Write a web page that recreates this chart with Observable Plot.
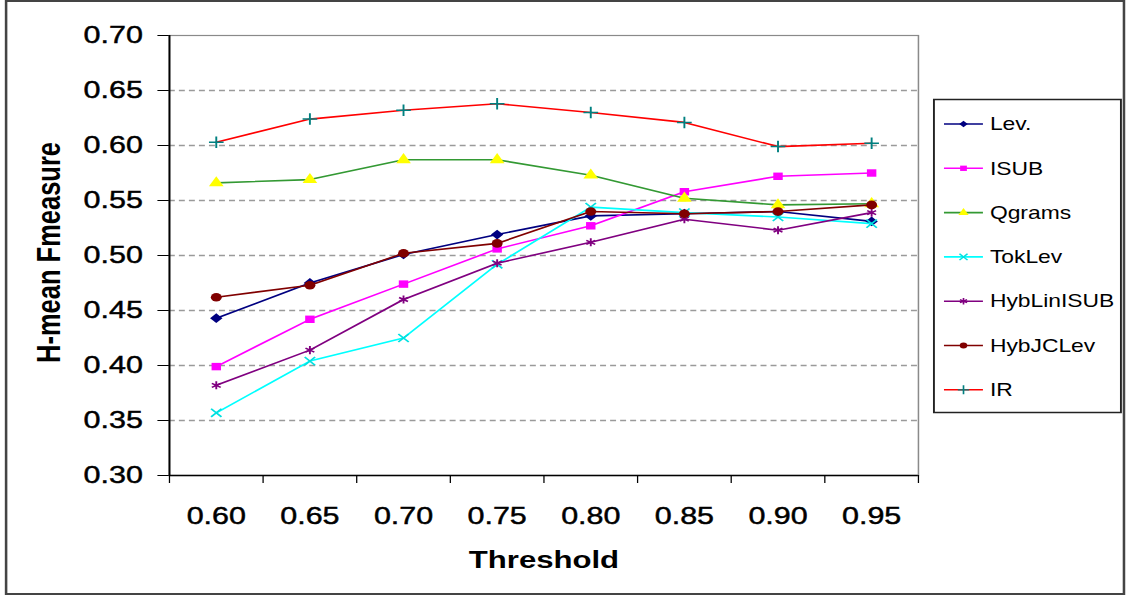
<!DOCTYPE html>
<html><head><meta charset="utf-8">
<script src="https://cdn.jsdelivr.net/npm/d3@7"></script>
<script src="https://cdn.jsdelivr.net/npm/@observablehq/plot@0.6"></script>
<style>
html,body{margin:0;padding:0;background:#fff}
#chart svg{display:block}
#chart g[aria-label="y-axis tick label"] text,
#chart g[aria-label="x-axis tick label"] text{stroke:#000;stroke-width:0.45px}
</style>
</head><body><div id="chart"></div>
<script>
// ---- data ----
const thresholds = [0.60, 0.65, 0.70, 0.75, 0.80, 0.85, 0.90, 0.95];
const xTickLabels = ["0.60","0.65","0.70","0.75","0.80","0.85","0.90","0.95"];
const yTicks = [0.30, 0.35, 0.40, 0.45, 0.50, 0.55, 0.60, 0.65, 0.70];
const yGridTicks = [0.35, 0.40, 0.45, 0.50, 0.55, 0.60, 0.65];
const seriesNames = ["Lev.", "ISUB", "Qgrams", "TokLev", "HybLinISUB", "HybJCLev", "IR"];
const lev        = [0.443, 0.475, 0.501, 0.519, 0.536, 0.538, 0.540, 0.531];
const isub       = [0.399, 0.442, 0.474, 0.506, 0.527, 0.558, 0.572, 0.575];
const qgrams     = [0.566, 0.569, 0.587, 0.587, 0.573, 0.552, 0.546, 0.547];
const tokLev     = [0.357, 0.404, 0.425, 0.492, 0.544, 0.539, 0.535, 0.529];
const hybLinISUB = [0.382, 0.414, 0.460, 0.493, 0.512, 0.533, 0.523, 0.539];
const hybJCLev   = [0.462, 0.473, 0.502, 0.511, 0.540, 0.538, 0.540, 0.546];
const ir         = [0.603, 0.624, 0.632, 0.638, 0.630, 0.621, 0.599, 0.602];
const xTitle = "Threshold";
const yTitle = "H-mean Fmeasure";

// ---- styles ----
const seriesValues = [lev, isub, qgrams, tokLev, hybLinISUB, hybJCLev, ir];
const lineColors   = ["#000080", "#ff00ff", "#339933", "#00ffff", "#800080", "#800000", "#ff0000"];
const markFill     = ["#000080", "#ff00ff", "#ffff00", "none", "none", "#800000", "none"];
const markStroke   = ["none", "none", "none", "#00e0e0", "#800080", "none", "#008080"];
const markSymbol   = [d3.symbolDiamond2, d3.symbolSquare, d3.symbolTriangle, d3.symbolTimes, d3.symbolAsterisk, d3.symbolCircle, d3.symbolPlus];
const markR        = [4.4, 4.2, 4.3, 3.8, 3.8, 4.3, 3.8];

const rows = seriesNames.flatMap((name, i) => thresholds.map((t, j) => ({series: name, t, v: seriesValues[i][j]})));
const step = thresholds[1] - thresholds[0];
const xDomain = [thresholds[0] - step / 2, thresholds[thresholds.length - 1] + step / 2];
const boundaries = thresholds.map(t => t - step / 2).concat([xDomain[1]]);

const VW = 887, VH = 597, SW = 1126;
const FONT = "'Liberation Sans', Arial, sans-serif";

const marks = [
  Plot.gridY(yGridTicks, {stroke: "#9a9a9a", strokeOpacity: 1, strokeWidth: 1.5, strokeDasharray: "4.7,3.2"}),
  Plot.frame({stroke: "#8a8a8a", strokeWidth: 1.2}),
  Plot.axisY({ticks: yTicks, tickFormat: d3.format(".2f"), tickSize: 9, tickPadding: 12, fontSize: 24, fontFamily: FONT, stroke: "#000", fill: "#000", label: null}),
  Plot.axisX({ticks: boundaries, tickFormat: () => "", tickSize: 8, stroke: "#000", label: null}),
  Plot.axisX({ticks: thresholds, tickFormat: (d) => xTickLabels[thresholds.findIndex(t => Math.abs(t - d) < 1e-9)], tickSize: 0, tickPadding: 31, fontSize: 24, fontFamily: FONT, fill: "#000", label: null}),
  Plot.ruleY([yTicks[0]], {stroke: "#000", strokeWidth: 1.5}),
  Plot.ruleX([xDomain[0]], {stroke: "#000", strokeWidth: 1.5})
];
seriesNames.forEach((name, i) => {
  const data = rows.filter(d => d.series === name);
  marks.push(Plot.line(data, {x: "t", y: "v", stroke: lineColors[i], strokeWidth: 1.6}));
  marks.push(Plot.dot(data, {x: "t", y: "v", symbol: markSymbol[i], r: markR[i], fill: markFill[i], stroke: markStroke[i], strokeWidth: 1.5}));
});

const chart = Plot.plot({
  width: VW, height: VH,
  marginLeft: 133, marginRight: 164, marginTop: 35, marginBottom: 122,
  x: {domain: xDomain, axis: null},
  y: {domain: [yTicks[0], yTicks[yTicks.length - 1]], axis: null},
  style: {fontFamily: FONT, background: "#fff", color: "#000"},
  marks
});

const svg = d3.select(chart);
// outer frame
svg.insert("rect", ":first-child").attr("x", 4.8).attr("y", 1).attr("width", 880.6).attr("height", 593)
  .attr("fill", "none").attr("stroke", "#444").attr("stroke-width", 2);
// axis titles
svg.append("text").text(yTitle)
  .attr("transform", "translate(47.5,252.5) rotate(-90)")
  .attr("text-anchor", "middle").attr("font-family", FONT).attr("font-weight", "bold")
  .attr("font-size", 25.5).attr("fill", "#000");
svg.append("text").text(xTitle)
  .attr("x", 428.5).attr("y", 568)
  .attr("text-anchor", "middle").attr("font-family", FONT).attr("font-weight", "bold")
  .attr("font-size", 24.5).attr("fill", "#000");
// legend
const lg = svg.append("g");
lg.append("rect").attr("x", 735.7).attr("y", 99.5).attr("width", 147.3).attr("height", 313)
  .attr("fill", "#fff").attr("stroke", "#222").attr("stroke-width", 1.5);
seriesNames.forEach((name, i) => {
  const y = 124 + i * 44.3;
  lg.append("line").attr("x1", 743.6).attr("x2", 774.3).attr("y1", y).attr("y2", y)
    .attr("stroke", lineColors[i]).attr("stroke-width", 1.6);
  lg.append("path").attr("transform", `translate(759,${y})`)
    .attr("d", d3.symbol(markSymbol[i], Math.PI * 3 * 3)())
    .attr("fill", markFill[i]).attr("stroke", markStroke[i]).attr("stroke-width", 1.3);
  lg.append("text").text(name).attr("x", 779.8).attr("y", y).attr("dy", "0.35em")
    .attr("text-anchor", "start")
    .attr("font-family", FONT).attr("font-size", 18).attr("fill", "#000");
});

chart.setAttribute("viewBox", `0 0 ${VW} ${VH}`);
chart.setAttribute("width", SW);
chart.setAttribute("height", VH);
chart.setAttribute("preserveAspectRatio", "none");
chart.style.maxWidth = "none";
chart.style.width = SW + "px";
chart.style.height = VH + "px";
document.getElementById("chart").appendChild(chart);
</script>
</body></html>
